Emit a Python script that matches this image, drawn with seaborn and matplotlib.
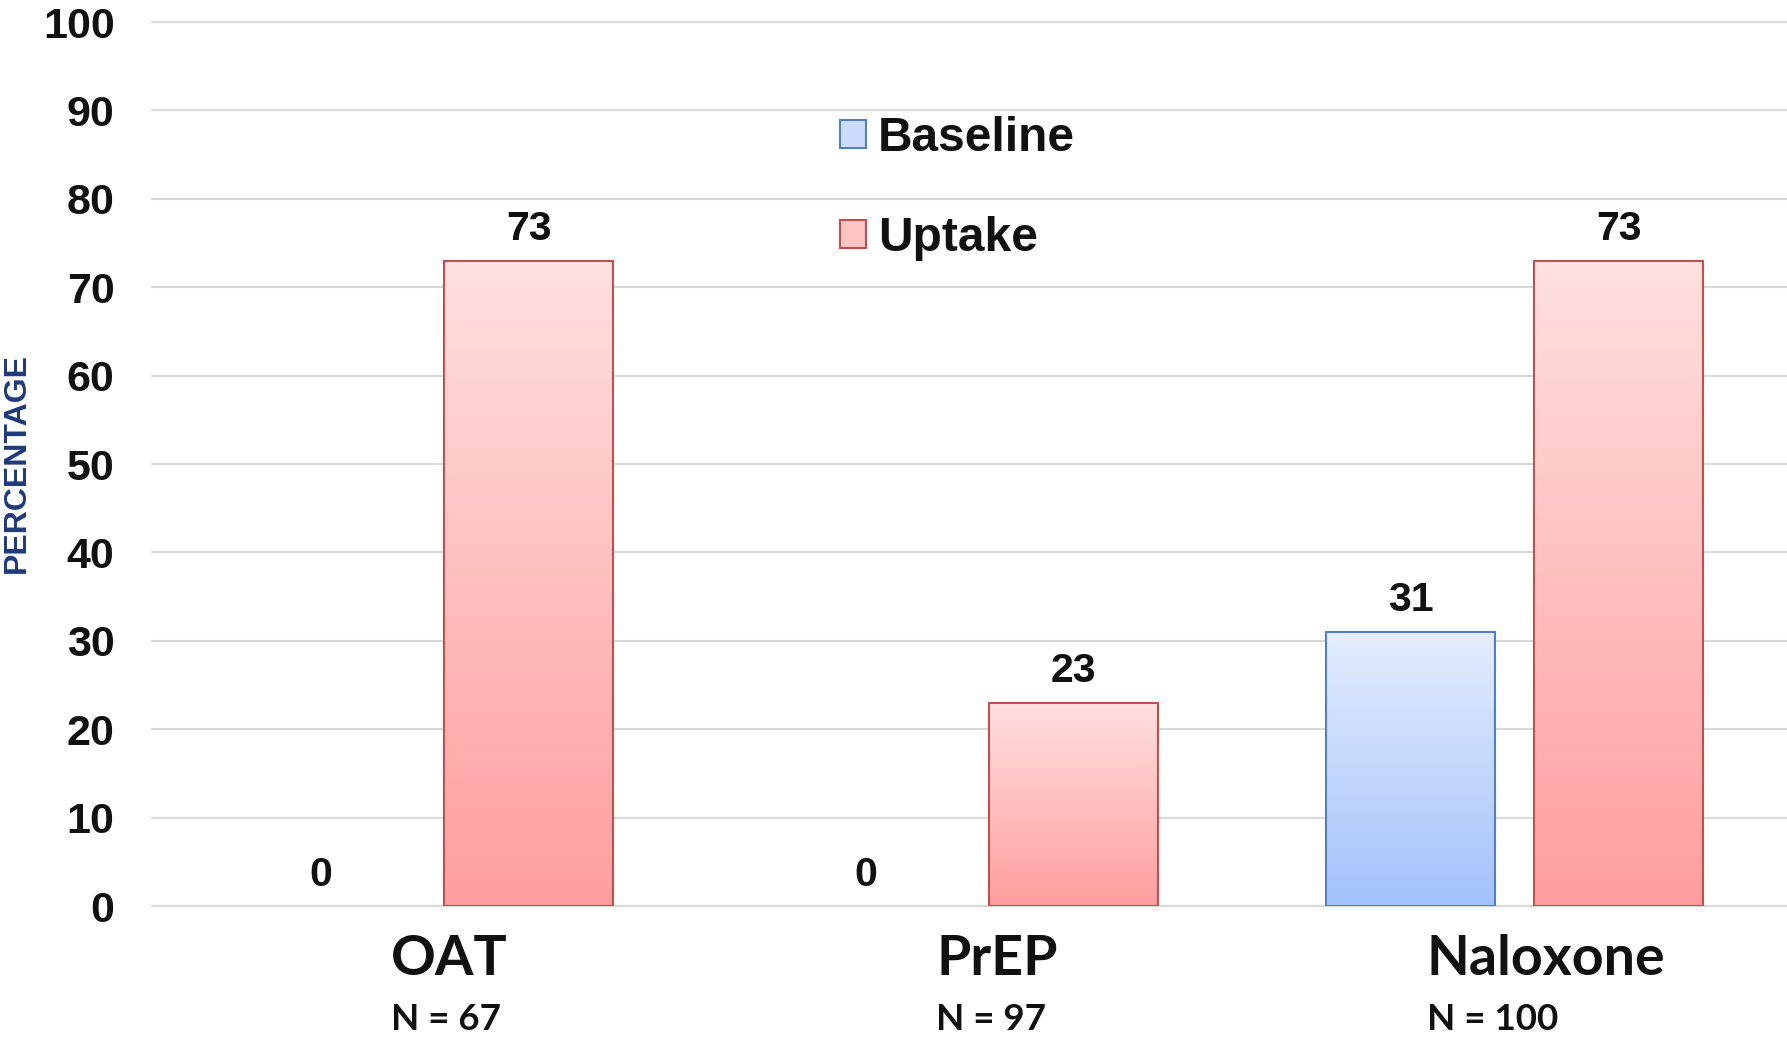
import matplotlib
matplotlib.use("Agg")
import matplotlib.pyplot as plt
import matplotlib.transforms as mtransforms
import numpy as np
import pandas as pd
import seaborn as sns
from matplotlib.colors import LinearSegmentedColormap
from matplotlib.patches import Patch

categories = ["OAT", "PrEP", "Naloxone"]
sample_sizes = [67, 97, 100]
series = ["Baseline", "Uptake"]
baseline = [0, 0, 31]
uptake = [73, 23, 73]

df = pd.DataFrame({
    "service": categories * 2,
    "group": ["Baseline"] * 3 + ["Uptake"] * 3,
    "pct": baseline + uptake,
})

sns.set_theme(style="whitegrid")
plt.rcParams['font.family'] = ['Liberation Sans', 'DejaVu Sans']

edge = {"Baseline": "#4f81bd", "Uptake": "#c0504d"}
grad = {"Baseline": ("#a3c2fb", "#e4edfd"), "Uptake": ("#ff9e9e", "#ffe0e0")}
swatch = {"Baseline": "#cddcfc", "Uptake": "#ffc4c4"}

fig = plt.figure(figsize=(17.87, 10.39), dpi=100)
ax = fig.add_axes([0.0851, 0.128, 0.9149, 0.8508])

sns.barplot(data=df, x="service", y="pct", hue="group", order=categories,
            hue_order=series, width=0.764, gap=0.19, ax=ax, legend=False)

for cont, name in zip(ax.containers, series):
    cmap = LinearSegmentedColormap.from_list(name, grad[name])
    for bar in cont:
        bar.set_edgecolor(edge[name])
        bar.set_zorder(3)
        h = bar.get_height()
        if h > 0:
            bar.set_linewidth(1.5)
            x0, w = bar.get_x(), bar.get_width()
            ax.imshow(np.linspace(0, 1, 256).reshape(-1, 1), extent=[x0, x0 + w, 0, h],
                      origin='lower', cmap=cmap, aspect='auto', zorder=2.5)
        else:
            bar.set_linewidth(0)
        bar.set_facecolor('none')
    ax.bar_label(cont, labels=[f"{b.get_height():.0f}" for b in cont], padding=9,
                 fontsize=29.5, fontweight='bold', color='#111111')

ax.set_xlim(-0.5, 2.5)
ax.set_ylim(0, 100)
ax.set_yticks(range(0, 101, 10))
ax.set_xticks(range(3))
ax.set_xticklabels([])
ax.set_xlabel('')
ax.set_ylabel('')
ax.xaxis.grid(False)
ax.yaxis.grid(True, color='#d9d9d9', linewidth=1.5)
for gl in ax.get_ygridlines():
    gl.set_clip_on(False)
ax.set_facecolor('white')
for s in ax.spines.values():
    s.set_visible(False)
ax.tick_params(axis='y', length=0, pad=27, labelsize=31, labelcolor='#111111')
ax.tick_params(axis='x', length=0)
for t in ax.get_yticklabels():
    t.set_fontweight('bold')

# category names and sample sizes under the axis
trans = mtransforms.blended_transform_factory(ax.transData, fig.transFigure)
name_offset = [-0.061, -0.061, -0.161]
for i, (cat, n) in enumerate(zip(categories, sample_sizes)):
    ax.text(i + name_offset[i], 0.077, cat, transform=trans, ha='left', va='center',
            fontsize=40, fontweight='bold', family='Lato', color='#111111')
    ax.text(i + name_offset[i], 0.019, f"N = {n}", transform=trans, ha='left', va='center',
            fontsize=26.5, fontweight='bold', family='Lato', color='#111111')

fig.text(0.0095, 0.554, "PERCENTAGE", rotation=90, ha='center', va='center',
         fontsize=23, fontweight='bold', color='#1f3a7a')

handles = [Patch(facecolor=swatch[s], edgecolor=edge[s], linewidth=1.5) for s in series]
leg = ax.legend(handles, series, loc='upper left', bbox_to_anchor=(0.421, 0.894), frameon=False,
                prop={'size': 34.5, 'weight': 'bold'}, handlelength=0.53, handleheight=0.53,
                handletextpad=0.25, labelspacing=1.15, borderpad=0, borderaxespad=0)
for t in leg.get_texts():
    t.set_color('#111111')

fig.savefig('out.png', dpi=100)
